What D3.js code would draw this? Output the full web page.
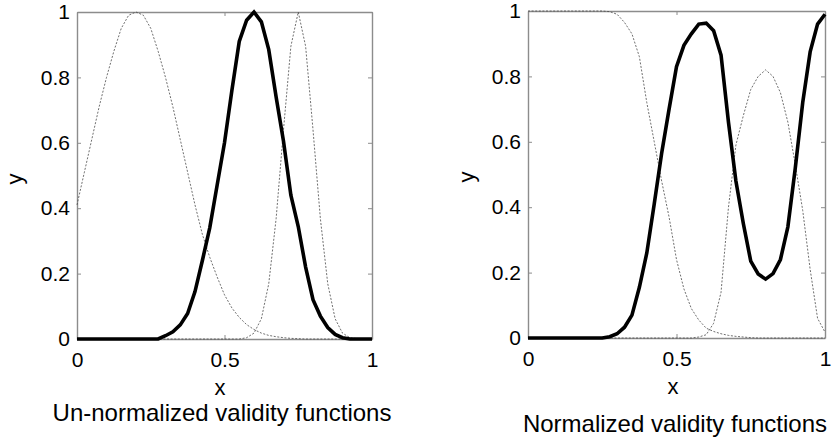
<!DOCTYPE html>
<html>
<head>
<meta charset="utf-8">
<script src="https://cdn.jsdelivr.net/npm/d3@7"></script>
<style>
  html, body { margin: 0; padding: 0; background: #fff; }
  svg { display: block; }
  text { font-family: "Liberation Sans", Arial, Helvetica, sans-serif; fill: #000; }
</style>
</head>
<body>
<svg id="chart" width="833" height="441"></svg>
<script>
// ---- data ----
const xGrid = [0, 0.025, 0.05, 0.075, 0.1, 0.125, 0.15, 0.175, 0.2, 0.225,
  0.25, 0.275, 0.3, 0.325, 0.35, 0.375, 0.4, 0.425, 0.45, 0.475,
  0.5, 0.525, 0.55, 0.575, 0.6, 0.625, 0.65, 0.675, 0.7, 0.725,
  0.75, 0.775, 0.8, 0.825, 0.85, 0.875, 0.9, 0.925, 0.95, 0.975, 1];

// Un-normalized validity functions
const unA = [0.41, 0.51, 0.61, 0.71, 0.80, 0.88, 0.95, 0.99, 1.0, 0.99,
  0.95, 0.88, 0.80, 0.71, 0.61, 0.51, 0.41, 0.32, 0.25, 0.19,
  0.135, 0.095, 0.066, 0.044, 0.029, 0.018, 0.011, 0.007, 0.004, 0.002,
  0.001, 0, 0, 0, 0, 0, 0, 0, 0, 0, 0];
const unB = [0, 0, 0, 0, 0, 0, 0, 0, 0, 0,
  0, 0, 0.01, 0.022, 0.043, 0.078, 0.145, 0.24, 0.34, 0.47,
  0.6, 0.76, 0.91, 0.975, 1.0, 0.97, 0.885, 0.74, 0.605, 0.44,
  0.344, 0.22, 0.12, 0.07, 0.035, 0.014, 0.004, 0, 0, 0, 0];
const unC = [0, 0, 0, 0, 0, 0, 0, 0, 0, 0,
  0, 0, 0, 0, 0, 0, 0, 0, 0, 0,
  0, 0, 0, 0.004, 0.018, 0.062, 0.169, 0.368, 0.64, 0.895,
  1.0, 0.895, 0.64, 0.368, 0.169, 0.062, 0.018, 0.004, 0.001, 0, 0];

// Normalized validity functions
const nA = [1, 1, 1, 1, 1, 1, 1, 1, 1, 1,
  1, 0.998, 0.99, 0.965, 0.93, 0.86, 0.72, 0.60, 0.48, 0.37,
  0.24, 0.15, 0.09, 0.055, 0.03, 0.02, 0.013, 0.008, 0.005, 0.003,
  0.001, 0, 0, 0, 0, 0, 0, 0, 0, 0, 0];
const nB = [0, 0, 0, 0, 0, 0, 0, 0, 0, 0,
  0, 0.004, 0.013, 0.033, 0.07, 0.155, 0.26, 0.41, 0.565, 0.70,
  0.83, 0.895, 0.93, 0.96, 0.963, 0.94, 0.865, 0.66, 0.48, 0.35,
  0.235, 0.196, 0.18, 0.197, 0.24, 0.34, 0.52, 0.72, 0.875, 0.96, 0.99];
const nC = [0, 0, 0, 0, 0, 0, 0, 0, 0, 0,
  0, 0, 0, 0, 0, 0, 0, 0, 0, 0,
  0, 0, 0, 0.003, 0.01, 0.045, 0.14, 0.40, 0.59, 0.68,
  0.76, 0.80, 0.82, 0.80, 0.75, 0.66, 0.53, 0.39, 0.21, 0.06, 0.018];

const xTicks = [0, 0.5, 1];
const yTicks = [0, 0.2, 0.4, 0.6, 0.8, 1];
const titles = ["Un-normalized validity functions", "Normalized validity functions"];
const xLabel = "x";
const yLabel = "y";

// ---- layout ----
const panels = [
  { left: 77, right: 372, top: 12, bottom: 339, dashed: [unA, unC], thick: unB,
    yLab: [16, 179], xLab: 220, xLabY: 395, titleX: 222, titleY: 421 },
  { left: 528, right: 825, top: 11, bottom: 338, dashed: [nA, nC], thick: nB,
    yLab: [468, 177], xLab: 673, xLabY: 394, titleX: 675, titleY: 432 }
];

const svg = d3.select("#chart");
const fmt = d => String(d);

panels.forEach((p, i) => {
  const x = d3.scaleLinear().domain([0, 1]).range([p.left, p.right]);
  const y = d3.scaleLinear().domain([0, 1]).range([p.bottom, p.top]);
  const g = svg.append("g");
  const axColor = "#8c8c8c";

  const styleAxis = sel => {
    sel.select(".domain").attr("stroke", axColor).attr("stroke-width", 1.4);
    sel.selectAll(".tick line").attr("stroke", axColor).attr("stroke-width", 1);
    sel.selectAll(".tick text").attr("fill", "#000").attr("font-size", null)
      .style("font-size", "21px")
      .style("font-family", '"Liberation Sans", Arial, sans-serif');
  };

  g.append("g").attr("transform", `translate(0,${p.bottom})`)
    .call(d3.axisBottom(x).tickValues(xTicks).tickFormat(fmt).tickSizeInner(-4).tickSizeOuter(0).tickPadding(13))
    .call(styleAxis);
  g.append("g").attr("transform", `translate(0,${p.top})`)
    .call(d3.axisTop(x).tickValues(xTicks).tickFormat("").tickSizeInner(-4).tickSizeOuter(0))
    .call(styleAxis);
  g.append("g").attr("transform", `translate(${p.left},0)`)
    .call(d3.axisLeft(y).tickValues(yTicks).tickFormat(fmt).tickSizeInner(-4).tickSizeOuter(0).tickPadding(7))
    .call(styleAxis);
  g.append("g").attr("transform", `translate(${p.right},0)`)
    .call(d3.axisRight(y).tickValues(yTicks).tickFormat("").tickSizeInner(-4).tickSizeOuter(0))
    .call(styleAxis);

  const line = d3.line().x((d, k) => x(xGrid[k])).y(d => y(d));

  p.dashed.forEach(series => {
    g.append("path").datum(series)
      .attr("d", line)
      .attr("fill", "none")
      .attr("stroke", "#4a4a4a")
      .attr("stroke-width", 0.8)
      .attr("stroke-dasharray", "2,1.6");
  });
  g.append("path").datum(p.thick)
    .attr("d", line)
    .attr("fill", "none")
    .attr("stroke", "#000")
    .attr("stroke-width", 3.6)
    .attr("stroke-linejoin", "miter")
    .attr("stroke-linecap", "butt");

  g.append("text").attr("x", p.xLab).attr("y", p.xLabY)
    .attr("text-anchor", "middle").style("font-size", "22px").text(xLabel);
  g.append("text")
    .attr("transform", `translate(${p.yLab[0] + 6},${p.yLab[1]}) rotate(-90)`)
    .attr("text-anchor", "middle").style("font-size", "22px").text(yLabel);
  g.append("text").attr("x", p.titleX).attr("y", p.titleY)
    .attr("text-anchor", "middle").style("font-size", "24px").text(titles[i]);
});
</script>
</body>
</html>
